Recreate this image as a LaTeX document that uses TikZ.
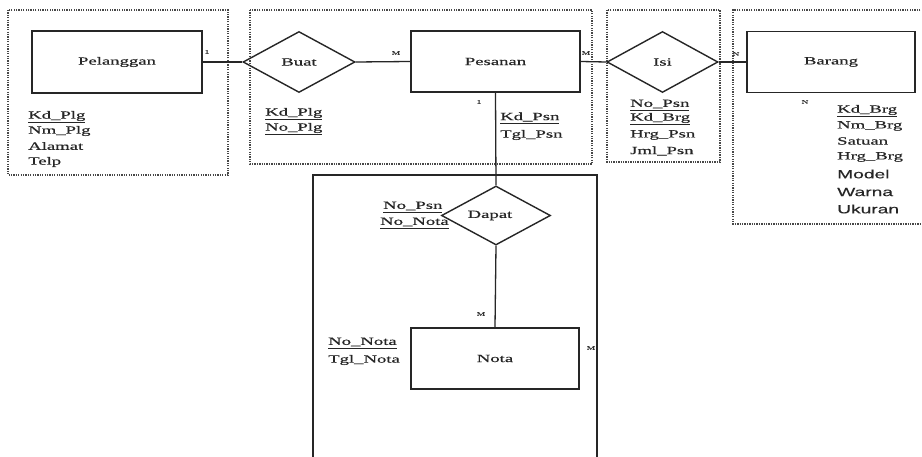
\documentclass[tikz,border=0pt]{standalone}
\usepackage{fontspec}
\usetikzlibrary{shapes.geometric}
\newfontfamily\erserif[FakeStretch=1.7,FakeBold=0.4]{Liberation Serif}
\newfontfamily\ersans[FakeStretch=1.6,FakeBold=0.3]{Liberation Sans}
\begin{document}
\begin{tikzpicture}[x=1pt,y=-1pt,
  ent/.style={draw=black!85,line width=1.4pt,inner sep=0pt,minimum width=169pt,minimum height=61pt,font=\erserif\fontsize{11}{13}\selectfont,text=black!85},
  rel/.style={draw=black!85,line width=1.4pt,diamond,inner sep=0pt,font=\erserif\fontsize{11}{13}\selectfont,text=black!85},
  attr/.style={anchor=west,inner sep=0pt,font=\erserif\fontsize{11}{13}\selectfont,text=black!85},
  sattr/.style={anchor=west,inner sep=0pt,font=\ersans\fontsize{12}{14}\selectfont,text=black!85},
  card/.style={inner sep=0pt,font=\erserif\fontsize{5.5}{6}\selectfont,text=black!80},
  grp/.style={draw=black!72,line width=2.2pt,dash pattern=on 1.3pt off 1.1pt},
  conn/.style={draw=black!85,line width=1.3pt}]
\useasboundingbox (0,0) rectangle (922,457);
\fill[white] (0,0) rectangle (922,457);

% dotted group boxes
\draw[grp] (8,10) rectangle (228,175);
\draw[grp] (250,10) rectangle (592,164);
\draw[grp] (607,10) rectangle (720,162);
\draw[grp] (930,10) -- (733,10) -- (733,224) -- (930,224);

% big solid box
\coordinate (bl) at (313,460);
\coordinate (tl) at (313,175);
\coordinate (tr) at (597,175);
\coordinate (br) at (597,460);
\draw[conn,line width=1.5pt] (bl) -- (tl) -- (tr) -- (br);

% entities
\node[ent,minimum width=170pt,minimum height=62pt] (pel) at (117,62) {Pelanggan};
\node[ent] (psn) at (495.5,61.5) {Pesanan};
\node[ent,minimum width=168pt] (brg) at (831,62) {Barang};
\node[ent,minimum width=168pt] (nota) at (495,358.5) {Nota};

% relationships
\node[rel,minimum width=112pt,minimum height=61pt] (buat) at (299,62) {Buat};
\node[rel,minimum width=111pt,minimum height=61pt] (isi) at (662.5,62) {Isi};
\node[rel,minimum width=109pt,minimum height=59pt] (dapat) at (496,215.5) {\hspace*{-12pt}Dapat};

% connectors
\draw[conn] (pel.east) -- (buat.west);
\draw[conn] (buat.east) -- (psn.west);
\draw[conn] (psn.east) -- (isi.west);
\draw[conn] (isi.east) -- (brg.west);
\draw[conn] (psn.south) -- (dapat.north);
\draw[conn] (dapat.south) -- (nota.north);

% cardinalities
\node[card] (c1) at (207,52) {1};
\node[card] (c2) at (396,53) {M};
\node[card] (c3) at (586,53) {M};
\node[card] (c4) at (736,54) {N};
\node[card] (c5) at (479,102) {1};
\node[card] (c6) at (805,102) {N};
\node[card] (c7) at (481,314) {M};
\node[card] (c8) at (591,348) {M};

% attributes Pelanggan
\node[attr] (a1) at (28,117) {\underline{Kd\_Plg}};
\node[attr] (a2) at (28,131) {Nm\_Plg};
\node[attr] (a3) at (28,146) {Alamat};
\node[attr] (a4) at (28,162) {Telp};

% attributes Buat
\node[attr] (b1) at (265,114) {\underline{Kd\_Plg}};
\node[attr] (b2) at (265,129) {\underline{No\_Plg}};

% attributes Pesanan
\node[attr] (p1) at (500,118) {\underline{Kd\_Psn}};
\node[attr] (p2) at (500,135) {Tgl\_Psn};

% attributes Isi
\node[attr] (i1) at (630,105) {\underline{No\_Psn}};
\node[attr] (i2) at (630,119) {\underline{Kd\_Brg}};
\node[attr] (i3) at (630,135) {Hrg\_Psn};
\node[attr] (i4) at (630,151) {Jml\_Psn};

% attributes Barang
\node[attr] (g1) at (837,111) {\underline{Kd\_Brg}};
\node[attr] (g2) at (837,126) {Nm\_Brg};
\node[attr] (g3) at (837,141) {Satuan};
\node[attr] (g4) at (837,157) {Hrg\_Brg};
\node[sattr] (g5) at (837,174) {Model};
\node[sattr] (g6) at (837,192) {Warna};
\node[sattr] (g7) at (837,209) {Ukuran};

% attributes Dapat
\node[attr] (d1) at (383,207) {\underline{No\_Psn}};
\node[attr] (d2) at (380,223) {\underline{No\_Nota}};

% attributes Nota
\node[attr] (n1) at (328,343) {\underline{No\_Nota}};
\node[attr] (n2) at (328,360) {Tgl\_Nota};
\end{tikzpicture}
\end{document}
